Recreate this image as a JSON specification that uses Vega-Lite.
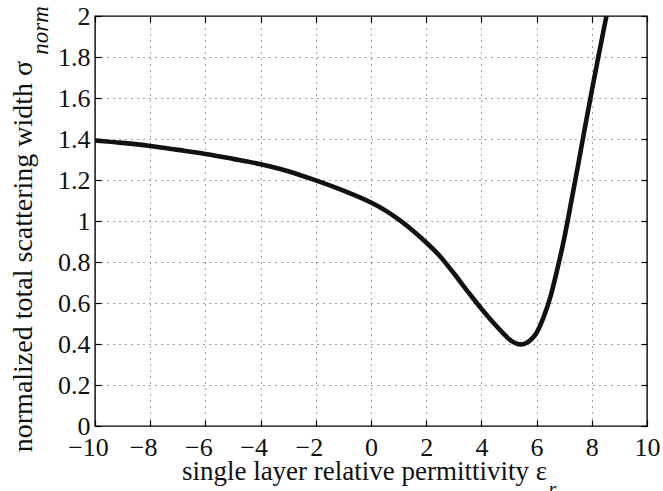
{
  "$schema": "https://vega.github.io/schema/vega-lite/v6.json",
  "width": 552,
  "height": 410,
  "autosize": {"type": "none"},
  "padding": {"left": 95, "top": 16, "right": 16, "bottom": 65},
  "background": "white",
  "config": {
    "view": {"stroke": "#000", "strokeWidth": 1.4},
    "axis": {
      "labelFont": "Liberation Serif, Times New Roman, serif",
      "titleFont": "Liberation Serif, Times New Roman, serif",
      "labelFontSize": 26,
      "titleFontSize": 27,
      "titleFontWeight": "normal",
      "labelColor": "#111",
      "titleColor": "#111",
      "tickColor": "#000",
      "tickWidth": 1.2,
      "tickSize": -6,
      "domain": false,
      "gridColor": "#444",
      "gridDash": [1, 5],
      "gridWidth": 1,
      "gridOpacity": 1,
      "labelOverlap": false,
      "labelFlush": false
    }
  },
  "data": {
    "values": [
      {"eps": -10, "sigma": 1.393},
      {"eps": -9, "sigma": 1.381},
      {"eps": -8, "sigma": 1.366},
      {"eps": -7, "sigma": 1.347},
      {"eps": -6, "sigma": 1.327},
      {"eps": -5, "sigma": 1.303},
      {"eps": -4, "sigma": 1.277},
      {"eps": -3, "sigma": 1.243},
      {"eps": -2, "sigma": 1.198},
      {"eps": -1, "sigma": 1.148},
      {"eps": 0, "sigma": 1.09},
      {"eps": 0.5, "sigma": 1.053},
      {"eps": 1, "sigma": 1.008},
      {"eps": 1.5, "sigma": 0.955},
      {"eps": 2, "sigma": 0.895},
      {"eps": 2.5, "sigma": 0.828},
      {"eps": 3, "sigma": 0.745},
      {"eps": 3.5, "sigma": 0.657},
      {"eps": 4, "sigma": 0.572},
      {"eps": 4.5, "sigma": 0.494},
      {"eps": 4.8, "sigma": 0.451},
      {"eps": 5, "sigma": 0.424},
      {"eps": 5.2, "sigma": 0.406},
      {"eps": 5.4, "sigma": 0.398},
      {"eps": 5.6, "sigma": 0.403},
      {"eps": 5.8, "sigma": 0.422},
      {"eps": 6, "sigma": 0.455},
      {"eps": 6.25, "sigma": 0.53},
      {"eps": 6.5, "sigma": 0.63},
      {"eps": 6.75, "sigma": 0.765},
      {"eps": 7, "sigma": 0.915},
      {"eps": 7.25, "sigma": 1.09},
      {"eps": 7.5, "sigma": 1.27},
      {"eps": 7.75, "sigma": 1.455},
      {"eps": 8, "sigma": 1.635},
      {"eps": 8.25, "sigma": 1.81},
      {"eps": 8.5, "sigma": 1.98},
      {"eps": 8.75, "sigma": 2.14}
    ]
  },
  "layer": [
    {
      "mark": {"type": "line", "color": "#111", "strokeWidth": 4.6, "clip": true, "interpolate": "monotone"},
      "encoding": {
        "x": {
          "field": "eps", "type": "quantitative",
          "scale": {"domain": [-10, 10], "nice": false},
          "axis": {
            "orient": "bottom",
            "values": [-10, -8, -6, -4, -2, 0, 2, 4, 6, 8, 10],
            "format": ".0f",
            "grid": true,
            "labelPadding": 14,
            "labelOffset": {"condition": {"test": "datum.value < 0", "value": -7}, "value": 0},
            "title": "single layer relative permittivity ε",
            "titleAlign": "center",
            "titleBaseline": "alphabetic",
            "titleX": 269,
            "titleY": 53
          }
        },
        "y": {
          "field": "sigma", "type": "quantitative",
          "scale": {"domain": [0, 2], "nice": false},
          "axis": {
            "orient": "left",
            "values": [0, 0.2, 0.4, 0.6, 0.8, 1, 1.2, 1.4, 1.6, 1.8, 2],
            "format": ".1~f",
            "grid": true,
            "labelPadding": 11,
            "title": "normalized total scattering width σ",
            "titleFontSize": 28,
            "titleAngle": 270,
            "titleAlign": "center",
            "titleBaseline": "alphabetic",
            "titleX": -64,
            "titleY": 240
          }
        }
      }
    },
    {
      "mark": {"type": "line", "opacity": 0},
      "encoding": {
        "x": {
          "field": "eps", "type": "quantitative",
          "scale": {"domain": [-10, 10], "nice": false},
          "axis": {
            "orient": "top",
            "values": [-10, -8, -6, -4, -2, 0, 2, 4, 6, 8, 10],
            "labels": false, "grid": false,
            "title": "r",
            "titleFontStyle": "italic",
            "titleFontSize": 20,
            "titleAngle": 0,
            "titleAlign": "center",
            "titleBaseline": "alphabetic",
            "titleX": 457,
            "titleY": 479
          }
        },
        "y": {
          "field": "sigma", "type": "quantitative",
          "scale": {"domain": [0, 2], "nice": false},
          "axis": {
            "orient": "right",
            "values": [0, 0.2, 0.4, 0.6, 0.8, 1, 1.2, 1.4, 1.6, 1.8, 2],
            "labels": false, "grid": false,
            "title": "norm",
            "titleFontStyle": "italic",
            "titleFontSize": 23,
            "titleAngle": 270,
            "titleAlign": "center",
            "titleBaseline": "alphabetic",
            "titleX": -600,
            "titleY": 14
          }
        }
      }
    }
  ],
  "resolve": {"axis": {"x": "independent", "y": "independent"}}
}
